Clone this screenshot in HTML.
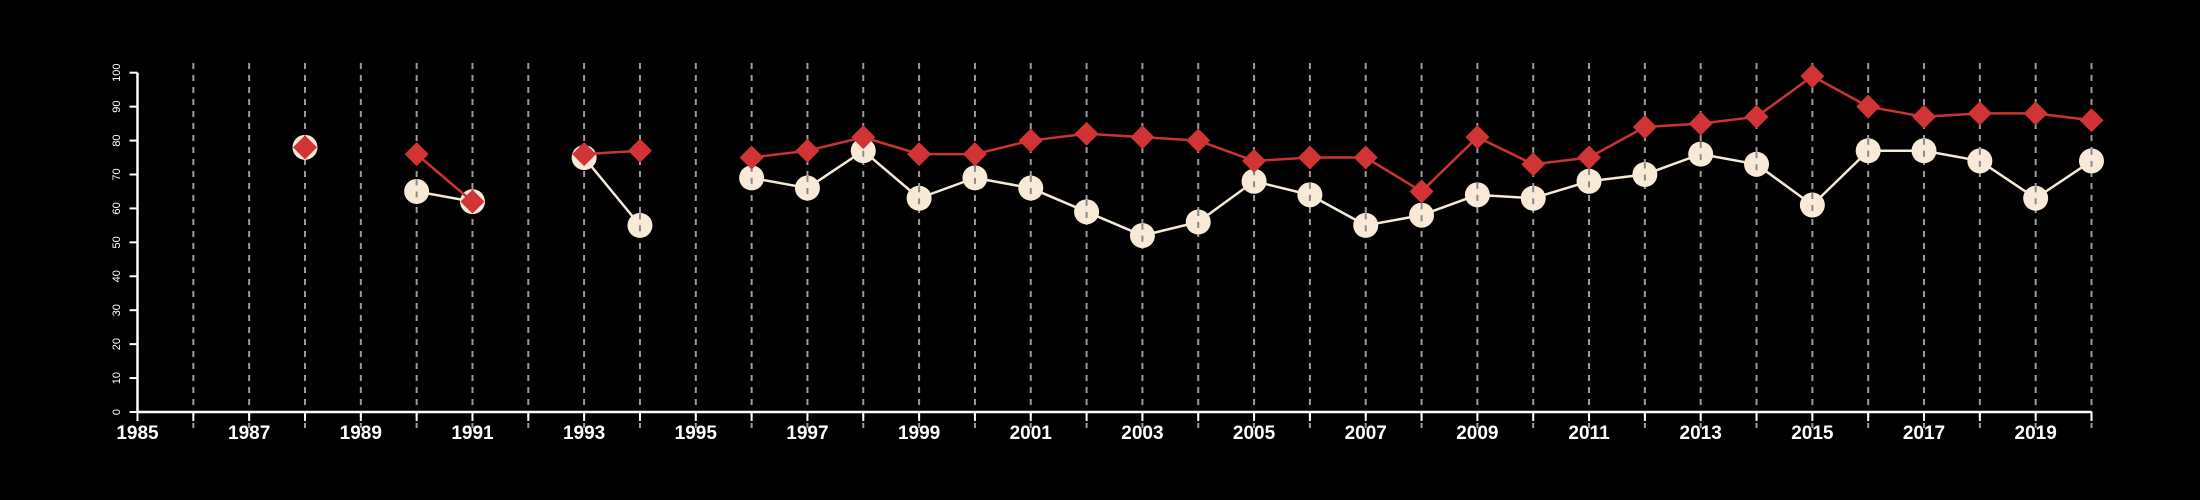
<!DOCTYPE html>
<html><head><meta charset="utf-8"><style>
html,body{margin:0;padding:0;background:#000;}
svg{display:block;}
</style></head><body>
<svg id="chart" width="2200" height="500" xmlns="http://www.w3.org/2000/svg" style="background:#000">
<g id="grid"></g>
<g id="axes"></g>
<g id="series"></g>
</svg>
<script>
const years = [1988,1989,1990,1991,1992,1993,1994,1995,1996,1997,1998,1999,2000,2001,2002,2003,2004,2005,2006,2007,2008,2009,2010,2011,2012,2013,2014,2015,2016,2017,2018,2019,2020];
const redValues = [78,null,76,62,null,76,77,null,75,77,81,76,76,80,82,81,80,74,75,75,65,81,73,75,84,85,87,99,90,87,88,88,86];
const creamValues = [78,null,65,62,null,75,55,null,69,66,77,63,69,66,59,52,56,68,64,55,58,64,63,68,70,76,73,61,77,77,74,63,74];
const yTicks = [0,10,20,30,40,50,60,70,80,90,100];
const xLabels = [1985,1987,1989,1991,1993,1995,1997,1999,2001,2003,2005,2007,2009,2011,2013,2015,2017,2019];

const NS='http://www.w3.org/2000/svg';
const x0=137.5, x1=2091.5, yr0=1985, yr1=2020;
const yb=412, yt=72.7;
function xs(v){return x0+(v-yr0)*(x1-x0)/(yr1-yr0);}
function ys(v){return yb-(v/100)*(yb-yt);}
function mk(tag,attrs,parent){const e=document.createElementNS(NS,tag);for(const k in attrs)e.setAttribute(k,attrs[k]);parent.appendChild(e);return e;}
const grid=document.getElementById('grid'), axes=document.getElementById('axes'), series=document.getElementById('series');

// axes
let ax=mk('line',{x1:x0,y1:yb,x2:x1,y2:yb,stroke:'#fff','stroke-width':2.5},axes);


let ay=mk('line',{x1:x0,y1:yb,x2:x0,y2:yt,stroke:'#fff','stroke-width':2.5},axes);


for(const t of yTicks){
  const y=ys(t);
  const tk=mk('line',{x1:x0-8,y1:y,x2:x0,y2:y,stroke:'#fff','stroke-width':2},axes);
  
  
  const tx=mk('text',{x:0,y:0,transform:`translate(120,${y}) rotate(-90)`,'text-anchor':'middle',fill:'#fff','font-family':'Liberation Sans, sans-serif','font-size':11},axes);
  tx.textContent=t;
  
  
}
for(let yv=yr0;yv<=yr1;yv++){
  const x=xs(yv);
  const tk=mk('line',{x1:x,y1:yb,x2:x,y2:yb+9,stroke:'#fff','stroke-width':2},axes);
  
  
  if(yv>yr0){
    const g=mk('line',{x1:x,y1:63,x2:x,y2:428,stroke:'#9a9a9a','stroke-width':2,'stroke-dasharray':'6,6'},grid);
    
    
  }
}
for(const l of xLabels){
  const tx=mk('text',{x:xs(l),y:439,'text-anchor':'middle',fill:'#fff','font-family':'Liberation Sans, sans-serif','font-weight':'bold','font-size':19},axes);
  tx.textContent=l;
  
  
}
function drawLines(vals,color,name){
  for(let i=0;i<years.length-1;i++){
    if(vals[i]==null||vals[i+1]==null)continue;
    const ln=mk('line',{x1:xs(years[i]),y1:ys(vals[i]),x2:xs(years[i+1]),y2:ys(vals[i+1]),stroke:color,'stroke-width':2.5},series);
    
    
  }
}
drawLines(creamValues,'#f5ead8','cream-line-segment');
for(let i=0;i<years.length;i++){
  if(creamValues[i]==null)continue;
  const c=mk('circle',{cx:xs(years[i]),cy:ys(creamValues[i]),r:12.5,fill:'#f8ead6'},series);
  
  
  const g=mk('line',{x1:xs(years[i]),y1:ys(creamValues[i])-12,x2:xs(years[i]),y2:ys(creamValues[i])+12,stroke:'#8a8a8a','stroke-width':2,'stroke-dasharray':'6,6'},series);
  
  
}
drawLines(redValues,'#cc3333','red-line-segment');
for(let i=0;i<years.length;i++){
  if(redValues[i]==null)continue;
  const x=xs(years[i]),y=ys(redValues[i]),d=12;
  const p=mk('polygon',{points:`${x},${y-d} ${x+d},${y} ${x},${y+d} ${x-d},${y}`,fill:'#d03434'},series);
  
  
}
</script>
</body></html>
